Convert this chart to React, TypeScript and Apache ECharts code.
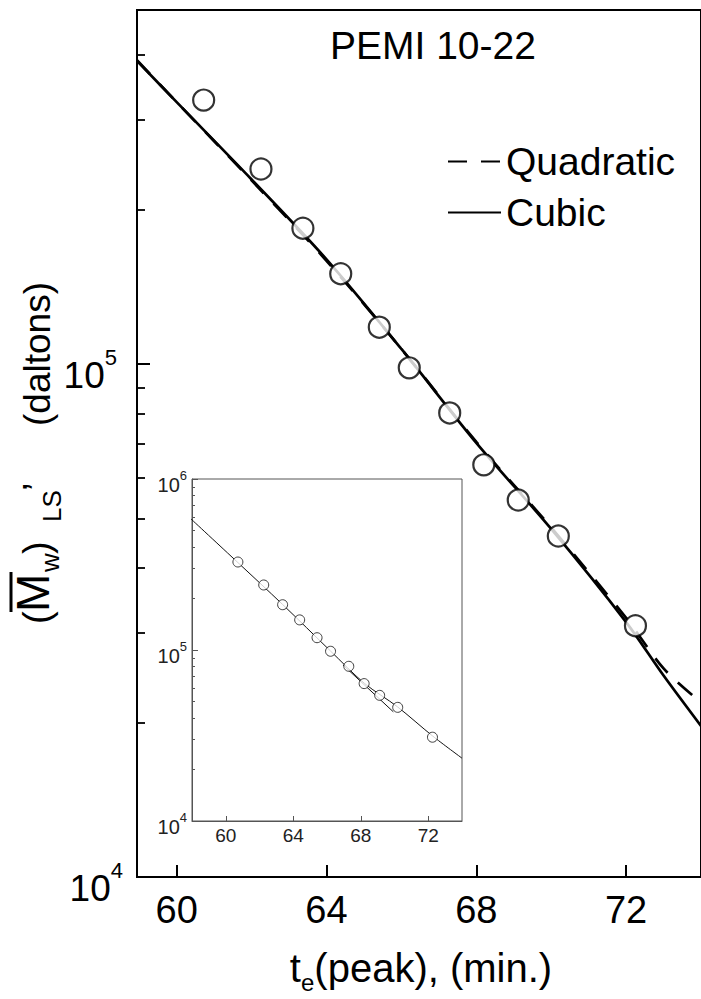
import React, { useEffect, useRef } from "react";
import * as echarts from "echarts";

// ---- measured data (main panel) ----
const peakTimes = [60.72, 62.25, 63.37, 64.38, 65.41, 66.21, 67.29, 68.2, 69.12, 70.19, 72.25];
const mwValues = [327000, 240000, 184000, 150000, 118000, 98300, 80300, 63600, 54300, 46200, 30900];

const cubicTimes = [58.94, 60, 62, 64, 66, 68, 70, 72, 73, 74];
const cubicMw = [390000, 324000, 229000, 160000, 107000, 70200, 47700, 31400, 24700, 19700];
const quadTimes = [58.94, 60, 62, 64, 66, 68, 70, 72, 73, 74];
const quadMw = [391000, 324000, 228000, 159000, 107000, 70500, 48000, 32000, 25500, 21900];

// ---- inset ----
const insetFitTimes = [57.9, 60.67, 63.36, 66.21, 68.22, 70.17, 72.26, 74];
const insetFitMw = [589000, 328000, 185000, 98600, 63800, 46600, 31400, 23300];
const insetSegTimes = [66.95, 69.93];
const insetSegMw = [81700, 43500];

// ---- ticks ----
const xTicks = [60, 64, 68, 72];
const mainYMajor = [10000, 100000];
const mainYMajorExp = ["4", "5"];
const mainYMinor = [20000, 30000, 40000, 50000, 60000, 70000, 80000, 90000, 200000, 300000, 400000];
const insetYMajor = [10000, 100000, 1000000];
const insetYMajorExp = ["4", "5", "6"];
const insetYMinor = [
  20000, 30000, 40000, 50000, 60000, 70000, 80000, 90000,
  200000, 300000, 400000, 500000, 600000, 700000, 800000, 900000,
];

const FONT = "Liberation Sans, Arial, Helvetica, sans-serif";

const zip = (a: number[], b: number[]) => a.map((v, i) => [v, b[i]]);

const vText = (text: string, x: number, y: number, size: number) => ({
  type: "text", x, y, rotation: Math.PI / 2, z: 10,
  style: { text, fontSize: size, fill: "#000", fontFamily: FONT, align: "left", verticalAlign: "middle" },
});

export default function App() {
  const ref = useRef<HTMLDivElement>(null);
  useEffect(() => {
    if (!ref.current) return;
    const chart = echarts.init(ref.current, undefined, { renderer: "svg" });
    const option: any = {
      animation: false,
      backgroundColor: "#fff",
      textStyle: { fontFamily: FONT },
      grid: [
        { left: 137, top: 10, width: 567, height: 867, show: true, borderColor: "#000", borderWidth: 2, backgroundColor: "transparent" },
        { left: 192, top: 479, width: 270, height: 342, show: true, borderColor: "#555", borderWidth: 1, backgroundColor: "#fff" },
      ],
      legend: {
        orient: "vertical",
        left: 447,
        top: 142,
        padding: 0,
        itemWidth: 53,
        itemHeight: 14,
        itemGap: 12,
        selectedMode: false,
        itemStyle: { opacity: 0 },
        data: ["Quadratic", "Cubic"],
        textStyle: { fontSize: 39, color: "#000", fontFamily: FONT },
      },
      xAxis: [
        {
          type: "value", gridIndex: 0, min: 58.94, max: 74,
          axisLine: { show: true, lineStyle: { color: "#000", width: 2 } },
          axisTick: { show: true, inside: true, length: 12, lineStyle: { color: "#000", width: 2 }, customValues: xTicks },
          axisLabel: { show: true, customValues: xTicks, fontSize: 38, color: "#000", margin: 14, fontFamily: FONT },
          splitLine: { show: false },
        },
        {
          type: "value", gridIndex: 1, min: 58, max: 74,
          axisLine: { show: true, lineStyle: { color: "#555", width: 1 } },
          axisTick: { show: true, inside: true, length: 5, lineStyle: { color: "#555", width: 1 }, customValues: xTicks },
          axisLabel: { show: true, customValues: xTicks, fontSize: 19, color: "#222", margin: 5, fontFamily: FONT },
          splitLine: { show: false },
        },
      ],
      yAxis: [
        {
          type: "log", gridIndex: 0, min: 10000, max: 490000, logBase: 10, position: "left",
          axisLine: { show: true, lineStyle: { color: "#000", width: 2 } },
          axisTick: { show: true, inside: true, length: 13, lineStyle: { color: "#000", width: 2 }, customValues: mainYMajor },
          axisLabel: {
            show: true, customValues: mainYMajor, margin: 14, padding: [12, 0, 0, 0],
            formatter: (v: number) => {
              const i = mainYMajor.findIndex((m) => Math.abs(m - v) / m < 1e-6);
              return i === 1 ? `{b|10}{s|${mainYMajorExp[i]}}{g| }` : `{b|10}{s|${mainYMajorExp[i]}}`;
            },
            rich: {
              b: { fontSize: 37, lineHeight: 48, verticalAlign: "bottom", color: "#000", fontFamily: FONT },
              s: { fontSize: 22, lineHeight: 22, verticalAlign: "top", color: "#000", fontFamily: FONT },
              g: { fontSize: 22, width: 6 },
            },
          },
          splitLine: { show: false },
        },
        {
          type: "log", gridIndex: 0, min: 10000, max: 490000, logBase: 10, position: "left", offset: 0,
          axisLine: { show: false },
          axisTick: { show: true, inside: true, length: 8, lineStyle: { color: "#000", width: 1.8 }, customValues: mainYMinor },
          axisLabel: { show: false },
          splitLine: { show: false },
        },
        {
          type: "log", gridIndex: 1, min: 10000, max: 1000000, logBase: 10, position: "left",
          axisLine: { show: true, lineStyle: { color: "#555", width: 1 } },
          axisTick: { show: true, inside: true, length: 6, lineStyle: { color: "#555", width: 1 }, customValues: insetYMajor },
          axisLabel: {
            show: true, customValues: insetYMajor, margin: 5, padding: [6, 0, 0, 0],
            formatter: (v: number) => {
              const i = insetYMajor.findIndex((m) => Math.abs(m - v) / m < 1e-6);
              return `{b|10}{s|${insetYMajorExp[i]}}`;
            },
            rich: {
              b: { fontSize: 20, lineHeight: 26, verticalAlign: "bottom", color: "#222", fontFamily: FONT },
              s: { fontSize: 13, lineHeight: 13, verticalAlign: "top", color: "#222", fontFamily: FONT },
            },
          },
          splitLine: { show: false },
        },
        {
          type: "log", gridIndex: 1, min: 10000, max: 1000000, logBase: 10, position: "left", offset: 0,
          axisLine: { show: false },
          axisTick: { show: true, inside: true, length: 3, lineStyle: { color: "#555", width: 1 }, customValues: insetYMinor },
          axisLabel: { show: false },
          splitLine: { show: false },
        },
      ],
      series: [
        {
          name: "Quadratic", type: "line", xAxisIndex: 0, yAxisIndex: 0, data: zip(quadTimes, quadMw),
          symbol: "none", smooth: 0.3, color: "#000", lineStyle: { color: "#000", width: 2.7, type: [19, 14] }, z: 2,
        },
        {
          name: "Cubic", type: "line", xAxisIndex: 0, yAxisIndex: 0, data: zip(cubicTimes, cubicMw),
          symbol: "none", smooth: 0.3, color: "#000", lineStyle: { color: "#000", width: 2.7, type: "solid" }, z: 3,
        },
        {
          name: "data", type: "scatter", xAxisIndex: 0, yAxisIndex: 0, data: zip(peakTimes, mwValues),
          symbol: "circle", symbolSize: 21, itemStyle: { color: "#fff", borderColor: "#000", borderWidth: 2.2 }, z: 5,
        },
        {
          name: "insetFit", type: "line", xAxisIndex: 1, yAxisIndex: 2, data: zip(insetFitTimes, insetFitMw),
          symbol: "none", smooth: 0.3, lineStyle: { color: "#111", width: 1 }, z: 3,
        },
        {
          name: "insetSeg", type: "line", xAxisIndex: 1, yAxisIndex: 2, data: zip(insetSegTimes, insetSegMw),
          symbol: "none", lineStyle: { color: "#111", width: 1 }, z: 3,
        },
        {
          name: "insetData", type: "scatter", xAxisIndex: 1, yAxisIndex: 2, data: zip(peakTimes, mwValues),
          symbol: "circle", symbolSize: 10, itemStyle: { color: "#fff", borderColor: "#111", borderWidth: 1 }, z: 5,
        },
      ],
      graphic: [
        {
          type: "text", left: 330, top: 26, z: 10,
          style: { text: "PEMI 10-22", fontSize: 39, fill: "#000", fontFamily: FONT },
        },
        {
          type: "text", x: 421, y: 971, z: 10,
          style: {
            text: "{a|t}{e|e}{a|(peak), (min.)}", align: "center", verticalAlign: "middle",
            rich: {
              a: { fontSize: 40, lineHeight: 46, verticalAlign: "top", fill: "#000", fontFamily: FONT },
              e: { fontSize: 24, lineHeight: 4, verticalAlign: "bottom", fill: "#000", fontFamily: FONT },
            },
          },
        },
        vText("(", 37, 624, 38),
        vText("M", 33, 612, 46),
        vText("w", 50, 572, 26),
        vText(")", 37, 554, 38),
        vText("LS", 52, 522, 26),
        vText("’", 37, 491, 38),
        vText("(daltons)", 37, 426, 37),
        {
          type: "line", z: 10,
          shape: { x1: 11, y1: 572, x2: 11, y2: 612 },
          style: { stroke: "#000", lineWidth: 3 },
        },
      ],
    };
    chart.setOption(option);
    return () => chart.dispose();
  }, []);
  return <div ref={ref} style={{ position: "fixed", left: 0, top: 0, width: 701, height: 999 }} />;
}
